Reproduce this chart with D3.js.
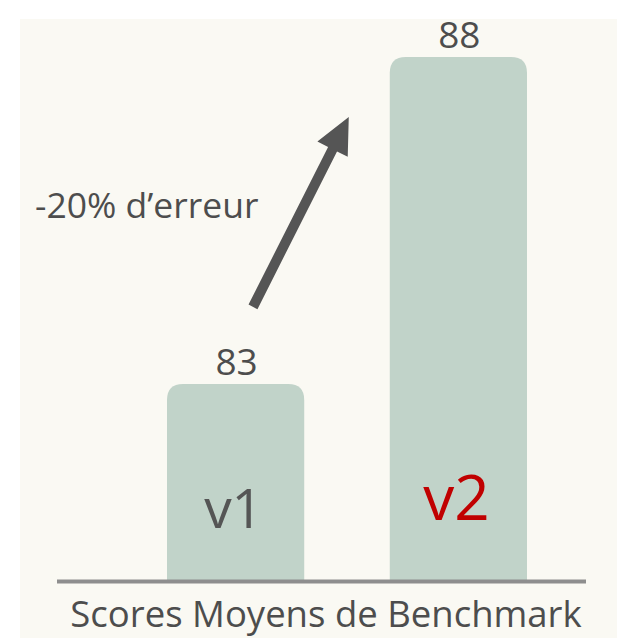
<!DOCTYPE html>
<html>
<head>
<meta charset="utf-8">
<script src="https://cdn.jsdelivr.net/npm/d3@7"></script>
<style>
  html, body { margin: 0; padding: 0; background: #ffffff; }
  text { font-family: "Open Sans", "Noto Sans", sans-serif; }
</style>
</head>
<body>
<div id="chart"></div>
<script>
const versions = ["v1", "v2"]
const scores = [83, 88]
const scoreLabels = ["83", "88"]
const axisTitle = "Scores Moyens de Benchmark"
const arrowLabel = "-20% d\u2019erreur"

const W = 636, H = 638
const baseY = 580

const svg = d3.select("#chart")
              .append("svg")
              .attr("width", W)
              .attr("height", H)

// beige panel
svg.append("rect")
   .attr("x", 20).attr("y", 19)
   .attr("width", 597).attr("height", H - 19)
   .attr("fill", "#faf9f3")

const x = d3.scaleBand()
            .domain(versions)
            .range([167, 527])
            .paddingInner(0.384)
            .paddingOuter(0)

const y = d3.scaleLinear()
            .domain([80, 88])
            .range([baseY, 57])

const data = versions.map((v, i) => ({version: v, score: scores[i], label: scoreLabels[i]}))

function topRounded(x0, y0, w, h, r) {
    return "M" + x0 + "," + (y0 + h) +
           "V" + (y0 + r) +
           "Q" + x0 + "," + y0 + " " + (x0 + r) + "," + y0 +
           "H" + (x0 + w - r) +
           "Q" + (x0 + w) + "," + y0 + " " + (x0 + w) + "," + (y0 + r) +
           "V" + (y0 + h) + "Z"
}

svg.selectAll(".bar")
   .data(data)
   .enter().append("path")
   .attr("class", "bar")
   .attr("fill", "#c1d3c9")
   .attr("d", d => topRounded(x(d.version), y(d.score), x.bandwidth(), baseY - y(d.score), 16))

// baseline
svg.append("line")
   .attr("x1", 57).attr("x2", 586)
   .attr("y1", baseY + 1.5).attr("y2", baseY + 1.5)
   .attr("stroke", "#8e8e8e")
   .attr("stroke-width", 4)

// value labels
svg.selectAll(".value")
   .data(data)
   .enter().append("text")
   .attr("class", "value")
   .attr("x", d => x(d.version) + x.bandwidth() / 2 + 1)
   .attr("y", d => y(d.score) - 9)
   .attr("text-anchor", "middle")
   .attr("font-size", 37)
   .attr("fill", "#4d4d4d")
   .text(d => d.label)

// version names inside bars
svg.selectAll(".vname")
   .data(data)
   .enter().append("text")
   .attr("class", "vname")
   .attr("x", d => x(d.version) + x.bandwidth() / 2 - 2)
   .attr("y", (d, i) => i == 0 ? 528 : 520)
   .attr("text-anchor", "middle")
   .attr("font-size", (d, i) => i == 0 ? 55 : 62)
   .attr("fill", (d, i) => i == 0 ? "#555555" : "#c00000")
   .text(d => d.version)

// axis title
svg.append("text")
   .attr("x", 326)
   .attr("y", 627)
   .attr("text-anchor", "middle")
   .attr("font-size", 36.5)
   .attr("fill", "#4d4d4d")
   .text(axisTitle)

// arrow from v1 up to v2
const tail = [x("v1") + 86, y(scores[0]) - 77]
const tip = [x("v2") - 41, y(scores[1]) + 60]
const dx = tip[0] - tail[0], dy = tip[1] - tail[1]
const len = Math.sqrt(dx * dx + dy * dy)
const ux = dx / len, uy = dy / len
const px = -uy, py = ux
const shaft = 5, headW = 17, headL = 36
const bx = tip[0] - ux * headL, by = tip[1] - uy * headL

const arrowPts = [
    [tail[0] + px * shaft, tail[1] + py * shaft],
    [bx + px * shaft, by + py * shaft],
    [bx + px * headW, by + py * headW],
    tip,
    [bx - px * headW, by - py * headW],
    [bx - px * shaft, by - py * shaft],
    [tail[0] - px * shaft, tail[1] - py * shaft]
]

svg.append("path")
   .attr("d", d3.line()(arrowPts) + "Z")
   .attr("fill", "#555555")

svg.append("text")
   .attr("x", 35)
   .attr("y", 218)
   .attr("font-size", 35.5)
   .attr("fill", "#4d4d4d")
   .text(arrowLabel)
</script>
</body>
</html>
